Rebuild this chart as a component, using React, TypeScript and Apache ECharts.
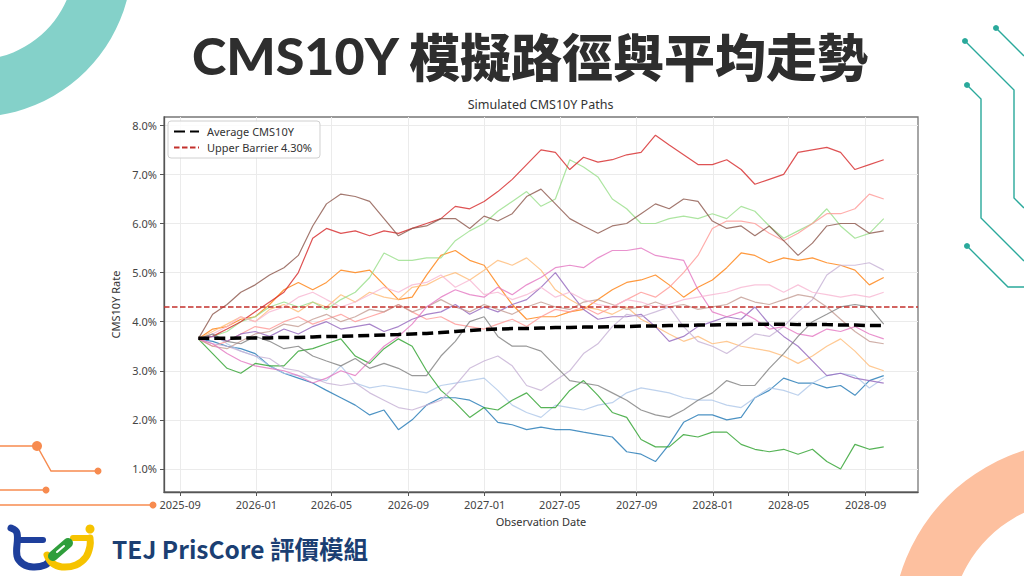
import { useEffect, useRef } from 'react';
import * as echarts from 'echarts';

// observation dates of the plotted points (about every three weeks)
const OBS_DATES = [
  '2025-09-30', '2025-10-23', '2025-11-15', '2025-12-07', '2025-12-30', '2026-01-22', '2026-02-14',
  '2026-03-09', '2026-04-01', '2026-04-23', '2026-05-16', '2026-06-08', '2026-07-01', '2026-07-24',
  '2026-08-16', '2026-09-07', '2026-09-30', '2026-10-23', '2026-11-15', '2026-12-08', '2026-12-31',
  '2027-01-22', '2027-02-14', '2027-03-09', '2027-04-01', '2027-04-24', '2027-05-17', '2027-06-08',
  '2027-07-01', '2027-07-24', '2027-08-16', '2027-09-08', '2027-10-01', '2027-10-23', '2027-11-15',
  '2027-12-08', '2027-12-31', '2028-01-23', '2028-02-15', '2028-03-08', '2028-03-31', '2028-04-23',
  '2028-05-16', '2028-06-08', '2028-07-01', '2028-07-23', '2028-08-15', '2028-09-07', '2028-09-30',
];

const TICK_MONTHS = [
  '2025-09', '2026-01', '2026-05', '2026-09', '2027-01',
  '2027-05', '2027-09', '2028-01', '2028-05', '2028-09',
];
const Y_TICKS = [1, 2, 3, 4, 5, 6, 7, 8];
const Y_MIN = 0.53;
const Y_MAX = 8.17;
const BARRIER = 4.3;

// simulated paths, CMS10Y rate in %
const PATH_BLUE = [3.65, 3.6, 3.5, 3.45, 3.35, 3.1, 2.95, 2.85, 2.75, 2.6, 2.45, 2.3, 2.1, 2.2, 1.8, 2.0, 2.3, 2.45, 2.45, 2.4, 2.25, 1.95, 1.9, 1.8, 1.85, 1.8, 1.8, 1.75, 1.7, 1.65, 1.35, 1.3, 1.15, 1.5, 1.95, 2.1, 2.1, 2.0, 2.05, 2.45, 2.6, 2.85, 2.75, 2.75, 2.65, 2.7, 2.5, 2.8, 2.9];
const PATH_LIGHT_BLUE = [3.65, 3.75, 3.55, 3.4, 3.3, 3.1, 2.95, 2.9, 2.85, 2.8, 3.1, 2.75, 2.65, 2.7, 2.65, 2.6, 2.55, 2.7, 2.75, 2.8, 2.85, 2.6, 2.3, 2.15, 2.05, 2.3, 2.25, 2.2, 2.3, 2.35, 2.55, 2.65, 2.6, 2.55, 2.45, 2.4, 2.4, 2.3, 2.25, 2.45, 2.65, 2.6, 2.5, 2.75, 2.9, 2.95, 2.9, 2.65, 2.85];
const PATH_ORANGE = [3.65, 3.85, 3.9, 4.05, 4.1, 4.35, 4.65, 4.8, 4.65, 4.8, 5.05, 5.0, 5.05, 4.75, 4.45, 4.5, 4.95, 5.35, 5.45, 5.25, 5.15, 4.75, 4.35, 4.05, 4.1, 4.1, 4.2, 4.25, 4.45, 4.65, 4.8, 4.85, 4.95, 4.75, 4.5, 4.7, 4.85, 5.1, 5.4, 5.35, 5.2, 5.3, 5.25, 5.3, 5.2, 5.15, 5.05, 4.75, 4.9];
const PATH_LIGHT_ORANGE = [3.65, 3.8, 3.95, 4.1, 4.0, 4.25, 4.35, 4.2, 4.4, 4.3, 4.55, 4.4, 4.6, 4.5, 4.45, 4.7, 4.75, 4.9, 5.0, 4.85, 5.05, 5.25, 5.15, 5.3, 5.05, 4.65, 4.45, 4.3, 4.25, 4.15, 4.3, 4.05, 3.9, 3.75, 3.6, 3.7, 3.55, 3.6, 3.5, 3.45, 3.4, 3.3, 3.15, 3.3, 3.5, 3.65, 3.4, 3.1, 3.0];
const PATH_GREEN = [3.65, 3.35, 3.05, 2.95, 3.15, 3.1, 3.1, 3.4, 3.45, 3.55, 3.65, 3.3, 3.15, 3.45, 3.65, 3.5, 3.0, 2.6, 2.35, 2.05, 2.25, 2.2, 2.4, 2.55, 2.25, 2.25, 2.6, 2.8, 2.5, 2.15, 2.05, 1.6, 1.45, 1.45, 1.7, 1.65, 1.75, 1.75, 1.5, 1.4, 1.35, 1.4, 1.3, 1.4, 1.15, 1.0, 1.5, 1.4, 1.45];
const PATH_LIGHT_GREEN = [3.65, 3.7, 3.8, 4.0, 4.1, 4.3, 4.4, 4.3, 4.4, 4.25, 4.45, 4.6, 4.9, 5.4, 5.25, 5.25, 5.3, 5.3, 5.65, 5.85, 6.0, 6.25, 6.45, 6.65, 6.35, 6.5, 7.3, 7.15, 6.95, 6.5, 6.3, 6.0, 6.0, 6.1, 6.15, 6.1, 6.2, 6.1, 6.35, 6.25, 5.95, 5.7, 5.85, 6.0, 6.3, 5.95, 5.7, 5.8, 6.1];
const PATH_RED = [3.65, 3.7, 3.85, 4.0, 4.2, 4.4, 4.6, 5.0, 5.7, 5.9, 5.8, 5.85, 5.75, 5.85, 5.8, 5.9, 6.0, 6.1, 6.35, 6.3, 6.45, 6.65, 6.9, 7.2, 7.5, 7.45, 7.1, 7.35, 7.25, 7.3, 7.4, 7.45, 7.8, 7.6, 7.4, 7.2, 7.2, 7.3, 7.1, 6.8, 6.9, 7.0, 7.45, 7.5, 7.55, 7.45, 7.1, 7.2, 7.3];
const PATH_SALMON = [3.65, 3.5, 3.6, 3.75, 3.9, 3.85, 4.0, 4.1, 3.95, 4.05, 4.15, 4.0, 4.1, 4.2, 4.35, 4.2, 4.05, 4.1, 3.95, 3.9, 3.85, 3.95, 4.05, 3.9, 4.1, 4.25, 4.2, 4.3, 4.15, 4.3, 4.45, 4.6, 4.5, 4.7, 5.0, 5.35, 5.9, 6.05, 6.05, 6.0, 5.8, 5.65, 5.8, 6.0, 6.2, 6.2, 6.3, 6.6, 6.5];
const PATH_PURPLE = [3.65, 3.7, 3.6, 3.75, 3.8, 3.7, 3.85, 3.75, 3.9, 4.0, 3.85, 3.9, 3.95, 3.8, 3.9, 4.05, 4.15, 4.2, 4.35, 4.15, 4.3, 4.2, 4.35, 4.45, 4.7, 5.0, 4.6, 4.25, 4.05, 4.1, 4.1, 4.15, 3.9, 3.6, 3.7, 3.9, 4.0, 4.1, 4.05, 4.3, 3.95, 3.7, 3.5, 3.2, 2.9, 2.95, 2.85, 2.8, 2.75];
const PATH_LIGHT_PURPLE = [3.65, 3.55, 3.5, 3.4, 3.3, 3.25, 3.05, 3.0, 2.85, 2.75, 2.7, 2.75, 2.55, 2.4, 2.25, 2.2, 2.3, 2.4, 2.7, 3.05, 3.2, 3.3, 3.1, 2.7, 2.6, 2.8, 3.0, 3.35, 3.55, 3.9, 4.15, 4.1, 4.2, 4.3, 3.9, 3.6, 3.5, 3.35, 3.55, 3.75, 3.7, 3.9, 4.2, 4.45, 4.95, 5.15, 5.15, 5.2, 5.05];
const PATH_BROWN = [3.65, 4.15, 4.35, 4.6, 4.75, 4.95, 5.1, 5.35, 5.95, 6.4, 6.6, 6.55, 6.45, 6.1, 5.75, 5.9, 5.95, 6.1, 6.1, 5.9, 6.15, 6.05, 6.2, 6.55, 6.7, 6.4, 6.1, 5.95, 5.8, 5.95, 6.0, 6.2, 6.4, 6.3, 6.5, 6.45, 6.05, 5.9, 5.95, 5.75, 5.95, 5.65, 5.35, 5.6, 5.95, 6.0, 6.0, 5.8, 5.85];
const PATH_LIGHT_BROWN = [3.65, 3.5, 3.45, 3.6, 3.75, 3.8, 3.95, 3.9, 4.05, 4.15, 4.0, 4.1, 4.25, 4.2, 4.35, 4.2, 4.3, 4.45, 4.3, 4.2, 4.35, 4.25, 4.15, 4.3, 4.4, 4.3, 4.25, 4.4, 4.45, 4.35, 4.25, 4.3, 4.4, 4.3, 4.35, 4.25, 4.3, 4.35, 4.5, 4.4, 4.35, 4.45, 4.55, 4.5, 4.3, 4.05, 3.8, 3.6, 3.55];
const PATH_PINK = [3.65, 3.55, 3.35, 3.2, 3.1, 3.05, 3.0, 2.9, 2.75, 2.85, 3.0, 2.9, 3.2, 3.5, 3.7, 3.95, 4.3, 4.5, 4.65, 4.55, 4.5, 4.7, 4.55, 4.75, 4.9, 5.1, 5.15, 5.1, 5.3, 5.45, 5.45, 5.5, 5.35, 5.3, 5.25, 4.65, 4.2, 4.1, 4.2, 4.05, 3.85, 3.9, 3.75, 3.7, 3.85, 3.8, 3.9, 3.75, 3.65];
const PATH_LIGHT_PINK = [3.65, 3.75, 3.9, 4.1, 4.0, 4.2, 4.3, 4.5, 4.6, 4.45, 4.3, 4.4, 4.55, 4.7, 4.6, 4.75, 4.8, 4.95, 4.7, 4.85, 4.55, 4.6, 4.45, 4.55, 4.7, 4.5, 4.6, 4.45, 4.35, 4.3, 4.45, 4.4, 4.3, 4.35, 4.45, 4.5, 4.55, 4.6, 4.7, 4.75, 4.75, 4.6, 4.75, 4.6, 4.55, 4.5, 4.55, 4.5, 4.6];
const PATH_GRAY = [3.65, 3.75, 3.6, 3.55, 3.7, 3.6, 3.45, 3.5, 3.3, 3.2, 3.1, 3.25, 3.05, 3.15, 3.05, 2.9, 2.9, 3.3, 3.6, 4.0, 4.1, 3.7, 3.5, 3.5, 3.4, 3.1, 2.8, 2.75, 2.7, 2.55, 2.4, 2.2, 2.1, 2.05, 2.2, 2.4, 2.55, 2.8, 2.7, 2.7, 3.05, 3.35, 3.7, 4.0, 4.15, 4.3, 4.35, 4.3, 3.95];

// mean over all simulations
const AVERAGE = [3.66, 3.66, 3.66, 3.67, 3.67, 3.67, 3.68, 3.68, 3.69, 3.7, 3.7, 3.71, 3.72, 3.73, 3.74, 3.75, 3.76, 3.78, 3.8, 3.82, 3.84, 3.85, 3.86, 3.86, 3.87, 3.88, 3.88, 3.89, 3.89, 3.9, 3.9, 3.91, 3.91, 3.92, 3.92, 3.93, 3.93, 3.94, 3.94, 3.95, 3.95, 3.95, 3.94, 3.94, 3.94, 3.93, 3.93, 3.92, 3.92];

const PATHS = [
  { color: '#1f77b4', values: PATH_BLUE },
  { color: '#aec7e8', values: PATH_LIGHT_BLUE },
  { color: '#ff7f0e', values: PATH_ORANGE },
  { color: '#ffbb78', values: PATH_LIGHT_ORANGE },
  { color: '#2ca02c', values: PATH_GREEN },
  { color: '#98df8a', values: PATH_LIGHT_GREEN },
  { color: '#d62728', values: PATH_RED },
  { color: '#ff9896', values: PATH_SALMON },
  { color: '#9467bd', values: PATH_PURPLE },
  { color: '#c5b0d5', values: PATH_LIGHT_PURPLE },
  { color: '#8c564b', values: PATH_BROWN },
  { color: '#c49c94', values: PATH_LIGHT_BROWN },
  { color: '#e377c2', values: PATH_PINK },
  { color: '#f7b6d2', values: PATH_LIGHT_PINK },
  { color: '#7f7f7f', values: PATH_GRAY },
];

const ORIGIN = Date.parse('2025-09-01');
const toDay = (d: string) => (Date.parse(d) - ORIGIN) / 86400000;

const OBS_DAYS = OBS_DATES.map(toDay);
const TICK_DAYS = TICK_MONTHS.map((m) => toDay(m + '-01'));
const TICK_LABEL: Record<number, string> = {};
TICK_DAYS.forEach((d, i) => { TICK_LABEL[d] = TICK_MONTHS[i]; });

// 5% margin on each side, like the source plot
const SPAN = OBS_DAYS[OBS_DAYS.length - 1] - OBS_DAYS[0];
const X_MIN = OBS_DAYS[0] - SPAN * 0.05;
const X_MAX = OBS_DAYS[OBS_DAYS.length - 1] + SPAN * 0.05;

const FONT = '"Noto Sans", "Open Sans", sans-serif';
const CJK = '"Noto Sans CJK TC", "Noto Sans CJK SC", sans-serif';
const TEAL = '#2aa99b';
const ORANGE = '#f78b4f';
const BARRIER_RED = '#c3302c';

function decorations() {
  const teal = (points: number[][]) => ({
    type: 'polyline', silent: true, shape: { points },
    style: { stroke: TEAL, lineWidth: 1.4, fill: null },
  });
  const tealDot = (cx: number, cy: number) => ({
    type: 'circle', silent: true, shape: { cx, cy, r: 3 }, style: { fill: TEAL },
  });
  const orange = (points: number[][]) => ({
    type: 'polyline', silent: true, shape: { points },
    style: { stroke: ORANGE, lineWidth: 1.4, fill: null },
  });
  const orangeDot = (cx: number, cy: number, r: number) => ({
    type: 'circle', silent: true, shape: { cx, cy, r }, style: { fill: ORANGE },
  });
  return [
    { type: 'ring', silent: true, shape: { cx: -25, cy: -40, r: 157, r0: 100 }, style: { fill: '#84d1c9' } },
    { type: 'ring', silent: true, shape: { cx: 1080, cy: 630, r: 188, r0: 130 }, style: { fill: '#fdc09f' } },
    teal([[996, 28], [1024, 56]]),
    teal([[965, 41], [1014, 90], [1014, 198], [1024, 208]]),
    teal([[967, 85], [981, 99], [981, 218], [1024, 261]]),
    teal([[967, 246], [1008, 287], [1024, 287]]),
    tealDot(996, 28), tealDot(965, 41), tealDot(967, 85), tealDot(967, 246),
    orange([[0, 446], [37, 446], [51, 471], [98, 471]]),
    orange([[0, 490], [46, 490]]),
    orange([[0, 505], [153, 505]]),
    orangeDot(37, 446, 5), orangeDot(98, 471, 3.5), orangeDot(46, 490, 3.5), orangeDot(153, 505, 3.5),
    {
      type: 'text', silent: true, x: 530, y: 55,
      style: {
        text: '{a|CMS10Y\u00a0}{b|模擬路徑與平均走勢}',
        align: 'center', verticalAlign: 'middle',
        rich: {
          a: { fontFamily: 'Lato, "Noto Sans", sans-serif', fontWeight: 900, fontSize: 52, fill: '#2e2e2e' },
          b: { fontFamily: CJK, fontWeight: 900, fontSize: 51, fill: '#2e2e2e' },
        },
      },
    },
    {
      type: 'text', silent: true, x: 540.5, y: 104,
      style: {
        text: 'Simulated CMS10Y Paths', fontSize: 12.5, fontFamily: FONT,
        fill: '#333', align: 'center', verticalAlign: 'middle',
      },
    },
    // tej logo
    {
      type: 'polyline', silent: true,
      shape: { points: [[11, 528], [17, 533], [17, 556], [23, 564], [33, 567], [45, 565], [51, 559]], smooth: 0.4 },
      style: { stroke: '#1e3f9c', lineWidth: 7, lineCap: 'round', lineJoin: 'round', fill: null },
    },
    {
      type: 'line', silent: true, shape: { x1: 17, y1: 540, x2: 43, y2: 540 },
      style: { stroke: '#1e3f9c', lineWidth: 6, lineCap: 'round' },
    },
    {
      type: 'polyline', silent: true,
      shape: { points: [[47, 555], [52, 563], [62, 567], [76, 565], [86, 557], [90, 546], [90, 538]], smooth: 0.4 },
      style: { stroke: '#f6c300', lineWidth: 7, lineCap: 'round', lineJoin: 'round', fill: null },
    },
    {
      type: 'line', silent: true, shape: { x1: 73, y1: 538, x2: 90, y2: 538 },
      style: { stroke: '#f6c300', lineWidth: 6, lineCap: 'round' },
    },
    { type: 'circle', silent: true, shape: { cx: 90, cy: 529, r: 4.5 }, style: { fill: '#f6c300' } },
    {
      type: 'line', silent: true, shape: { x1: 53, y1: 556, x2: 68, y2: 543 },
      style: { stroke: '#2f9e3c', lineWidth: 10, lineCap: 'round' },
    },
    {
      type: 'line', silent: true, shape: { x1: 57, y1: 552, x2: 64, y2: 546 },
      style: { stroke: '#ffffff', lineWidth: 2, lineCap: 'round' },
    },
    {
      type: 'text', silent: true, x: 112, y: 548,
      style: {
        text: 'TEJ PrisCore 評價模組', fontSize: 24.5, fontWeight: 'bold', fontFamily: CJK,
        fill: '#1b3f73', verticalAlign: 'middle',
      },
    },
  ];
}

export default function App() {
  const chartRef = useRef<HTMLDivElement>(null);

  useEffect(() => {
    if (!chartRef.current) return;
    const chart = echarts.init(chartRef.current, undefined, { renderer: 'svg' });

    const pathSeries = PATHS.map((p, k) => ({
      name: 'path' + k,
      type: 'line',
      data: OBS_DAYS.map((d, i) => [d, p.values[i]]),
      symbol: 'none',
      silent: true,
      z: 2,
      lineStyle: { color: p.color, width: 1.2, opacity: 0.8 },
      itemStyle: { color: p.color },
    }));

    const option = {
      animation: false,
      textStyle: { fontFamily: FONT },
      grid: {
        left: 164, top: 117, width: 754, height: 375,
        show: true, borderColor: '#777', borderWidth: 1.3, backgroundColor: 'transparent',
      },
      xAxis: {
        type: 'value',
        min: X_MIN,
        max: X_MAX,
        name: 'Observation Date',
        nameLocation: 'middle',
        nameGap: 24,
        nameTextStyle: { fontSize: 11, color: '#333' },
        axisLine: { show: true, onZero: false, lineStyle: { color: '#555', width: 1.3 } },
        axisTick: { show: true, customValues: TICK_DAYS, length: 4, lineStyle: { color: '#555' } },
        axisLabel: {
          customValues: TICK_DAYS,
          formatter: (v: number) => TICK_LABEL[v] ?? '',
          fontSize: 11, color: '#444', margin: 7,
        },
        splitLine: { show: true, lineStyle: { color: '#ebebeb', width: 1 } },
      },
      yAxis: {
        type: 'value',
        min: Y_MIN,
        max: Y_MAX,
        name: 'CMS10Y Rate',
        nameLocation: 'middle',
        nameRotate: 90,
        nameGap: 38,
        nameTextStyle: { fontSize: 11, color: '#333' },
        axisLine: { show: true, onZero: false, lineStyle: { color: '#555', width: 1.3 } },
        axisTick: { show: true, customValues: Y_TICKS, length: 4, lineStyle: { color: '#555' } },
        axisLabel: {
          customValues: Y_TICKS,
          formatter: (v: number) => v.toFixed(1) + '%',
          fontSize: 11, color: '#444', margin: 7,
        },
        splitLine: { show: true, lineStyle: { color: '#ebebeb', width: 1 } },
      },
      legend: {
        data: ['Average CMS10Y', 'Upper Barrier 4.30%'],
        selectedMode: false,
        orient: 'vertical',
        left: 168,
        top: 121,
        itemWidth: 25,
        itemHeight: 12,
        itemGap: 5,
        padding: [5, 8, 5, 5],
        borderColor: '#d0d0d0',
        borderWidth: 1,
        borderRadius: 3,
        backgroundColor: 'rgba(255,255,255,0.85)',
        itemStyle: { opacity: 0 },
        textStyle: { fontSize: 11, color: '#333', padding: [0, 0, 0, 3] },
      },
      series: [
        ...pathSeries,
        {
          name: 'Average CMS10Y',
          type: 'line',
          data: OBS_DAYS.map((d, i) => [d, AVERAGE[i]]),
          symbol: 'none',
          silent: true,
          z: 4,
          lineStyle: { color: '#000', width: 3.5, type: [11, 5] },
          itemStyle: { color: '#000' },
        },
        {
          name: 'Upper Barrier 4.30%',
          type: 'line',
          data: [],
          symbol: 'none',
          silent: true,
          z: 5,
          lineStyle: { color: BARRIER_RED, width: 1.5, type: [5.5, 2.5] },
          itemStyle: { color: BARRIER_RED },
          markLine: {
            silent: true,
            symbol: ['none', 'none'],
            label: { show: false },
            lineStyle: { color: BARRIER_RED, width: 1.5, type: [5.5, 2.5] },
            data: [{ yAxis: BARRIER }],
          },
        },
      ],
      graphic: decorations(),
    };

    chart.setOption(option);

    return () => {
      chart.dispose();
    };
  }, []);

  return (
    <div
      ref={chartRef}
      style={{ position: 'fixed', left: 0, top: 0, width: 1024, height: 576, background: '#fff' }}
    />
  );
}
